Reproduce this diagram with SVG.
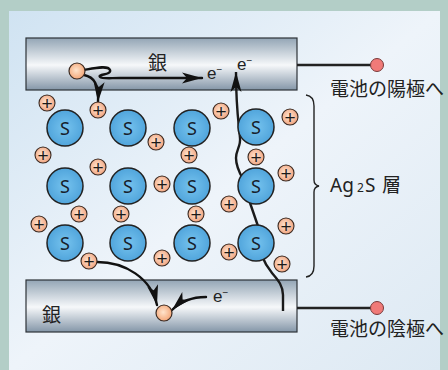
<svg xmlns="http://www.w3.org/2000/svg" width="448" height="370" viewBox="0 0 448 370">
  <defs>
    <linearGradient id="panelGrad" x1="0" y1="0" x2="1" y2="1">
      <stop offset="0" stop-color="#d0e3f2"/>
      <stop offset="0.5" stop-color="#eef4fa"/>
      <stop offset="1" stop-color="#dde9f3"/>
    </linearGradient>
    <linearGradient id="barGrad" x1="0" y1="0" x2="0" y2="1">
      <stop offset="0" stop-color="#93a5b5"/>
      <stop offset="0.52" stop-color="#f6f8fa"/>
      <stop offset="1" stop-color="#8496a8"/>
    </linearGradient>
    <radialGradient id="sGrad" cx="0.5" cy="0.5" r="0.55">
      <stop offset="0" stop-color="#76c3ee"/>
      <stop offset="1" stop-color="#4da2da"/>
    </radialGradient>
    <radialGradient id="ionGrad" cx="0.45" cy="0.45" r="0.6">
      <stop offset="0" stop-color="#ffe6d2"/>
      <stop offset="1" stop-color="#f0a07a"/>
    </radialGradient>
    <radialGradient id="agGrad" cx="0.45" cy="0.45" r="0.6">
      <stop offset="0" stop-color="#ffe4cc"/>
      <stop offset="1" stop-color="#f3a272"/>
    </radialGradient>
    <marker id="arrow" markerUnits="userSpaceOnUse" markerWidth="22" markerHeight="12" refX="20" refY="6" orient="auto">
      <path d="M0,0.5 L20,6 L0,11.5 L5,6 Z" fill="#111"/>
    </marker>
    <style>
      .bar { fill: url(#barGrad); stroke: #2e3338; stroke-width: 1.2; }
      .s { fill: url(#sGrad); stroke: #222; stroke-width: 1.5; }
      .ion { fill: url(#ionGrad); stroke: #3a2a22; stroke-width: 1.1; }
      .ag { fill: url(#agGrad); stroke: #3a2a22; stroke-width: 1.2; }
      .term { fill: #f07a78; stroke: #7a3a3a; stroke-width: 1; }
      .wire { fill: none; stroke: #1a1a1a; stroke-width: 2.4; }
      .flow { fill: none; stroke: #111; stroke-width: 2.4; stroke-linecap: round; }
      .lead { fill: none; stroke: #222; stroke-width: 2.4; }
      .brace { fill: none; stroke: #222; stroke-width: 1.4; }
      .sLabel { font-family: "Noto Sans", "Liberation Sans", sans-serif; font-size: 18px; fill: #17222c; text-anchor: middle; }
      .plus { font-family: "Liberation Sans", "DejaVu Sans", sans-serif; font-size: 19px; fill: #1a1a1a; text-anchor: middle; }
      .jp { font-family: "Noto Sans CJK JP", "Noto Sans", sans-serif; font-size: 19px; fill: #222; }
      .elec { font-family: "Liberation Sans", "Noto Sans", sans-serif; font-size: 17px; fill: #222; }
      .label { font-family: "Noto Sans", "Noto Sans CJK JP", sans-serif; font-size: 19px; fill: #222; }
    </style>
  </defs>

  <!-- background frame and panel -->
  <rect x="0" y="0" width="448" height="370" fill="#b3cec7"/>
  <rect x="9" y="11" width="431" height="359" fill="url(#panelGrad)"/>

  <!-- silver electrodes -->
  <g id="silver-top">
    <rect class="bar" x="26" y="38" width="271" height="52"/>
  </g>
  <g id="silver-bottom">
    <rect class="bar" x="26" y="280" width="271" height="52"/>
  </g>

  <!-- connectors -->
  <g id="connectors">
    <line class="lead" x1="297" y1="65" x2="371" y2="65"/>
    <line class="lead" x1="297" y1="308" x2="371" y2="308"/>
    <!-- electron path from silver atom along the top electrode -->
    <path class="flow" d="M84,70 C95,68 108,65 110,70 C112,75 97,74 100,77 C102,79 110,78 120,78 L202,78" marker-end="url(#arrow)"/>
    <!-- silver ion leaving into the Ag2S layer -->
    <path class="flow" d="M84,75 C94,77 99,84 98,102" marker-end="url(#arrow)"/>
    <!-- electron route through the Ag2S layer -->
    <path class="wire" d="M283,311 L283,295 C283,285 277,279 272,273 C268,268 265,264 262,256"/>
    <path class="wire" d="M259,229 L249,200"/>
    <path class="wire" d="M243,179 C239,172 236,166 236,158 C236,150 241,146 240,138 C239,125 236,110 236,72" marker-end="url(#arrow)"/>
    <!-- deposition at the bottom electrode -->
    <path class="flow" d="M97,262 C125,262 151,278 157,305" marker-end="url(#arrow)"/>
    <path class="flow" d="M206,297 C195,297 182,300 172,310" marker-end="url(#arrow)"/>
  </g>

  <!-- sulfide ions -->
  <g id="sulfur">
    <g id="s-1-1"><circle class="s" cx="65" cy="128" r="18"/><text class="sLabel" x="65" y="134.5">S</text></g>
    <g id="s-1-2"><circle class="s" cx="128" cy="128" r="18"/><text class="sLabel" x="128" y="134.5">S</text></g>
    <g id="s-1-3"><circle class="s" cx="192" cy="128" r="18"/><text class="sLabel" x="192" y="134.5">S</text></g>
    <g id="s-1-4"><circle class="s" cx="256" cy="127" r="18"/><text class="sLabel" x="256" y="133.5">S</text></g>
    <g id="s-2-1"><circle class="s" cx="65" cy="186" r="18"/><text class="sLabel" x="65" y="192.5">S</text></g>
    <g id="s-2-2"><circle class="s" cx="128" cy="186" r="18"/><text class="sLabel" x="128" y="192.5">S</text></g>
    <g id="s-2-3"><circle class="s" cx="192" cy="186" r="18"/><text class="sLabel" x="192" y="192.5">S</text></g>
    <g id="s-2-4"><circle class="s" cx="256" cy="186" r="18"/><text class="sLabel" x="256" y="192.5">S</text></g>
    <g id="s-3-1"><circle class="s" cx="65" cy="243" r="18"/><text class="sLabel" x="65" y="249.5">S</text></g>
    <g id="s-3-2"><circle class="s" cx="128" cy="243" r="18"/><text class="sLabel" x="128" y="249.5">S</text></g>
    <g id="s-3-3"><circle class="s" cx="192" cy="243" r="18"/><text class="sLabel" x="192" y="249.5">S</text></g>
    <g id="s-3-4"><circle class="s" cx="256" cy="243" r="18"/><text class="sLabel" x="256" y="249.5">S</text></g>
  </g>

  <!-- silver ions -->
  <g id="ions">
    <g id="ion-1"><circle class="ion" cx="47" cy="103" r="8"/><text class="plus" x="47" y="109.6">+</text></g>
    <g id="ion-2"><circle class="ion" cx="98" cy="110" r="8"/><text class="plus" x="98" y="116.6">+</text></g>
    <g id="ion-3"><circle class="ion" cx="221" cy="111" r="8"/><text class="plus" x="221" y="117.6">+</text></g>
    <g id="ion-4"><circle class="ion" cx="290" cy="117" r="8"/><text class="plus" x="290" y="123.6">+</text></g>
    <g id="ion-5"><circle class="ion" cx="156" cy="142" r="8"/><text class="plus" x="156" y="148.6">+</text></g>
    <g id="ion-6"><circle class="ion" cx="43" cy="155" r="8"/><text class="plus" x="43" y="161.6">+</text></g>
    <g id="ion-7"><circle class="ion" cx="189" cy="155" r="8"/><text class="plus" x="189" y="161.6">+</text></g>
    <g id="ion-8"><circle class="ion" cx="256" cy="157" r="8"/><text class="plus" x="256" y="163.6">+</text></g>
    <g id="ion-9"><circle class="ion" cx="98" cy="167" r="8"/><text class="plus" x="98" y="173.6">+</text></g>
    <g id="ion-10"><circle class="ion" cx="286" cy="173" r="8"/><text class="plus" x="286" y="179.6">+</text></g>
    <g id="ion-11"><circle class="ion" cx="162" cy="184" r="8"/><text class="plus" x="162" y="190.6">+</text></g>
    <g id="ion-12"><circle class="ion" cx="229" cy="204" r="8"/><text class="plus" x="229" y="210.6">+</text></g>
    <g id="ion-13"><circle class="ion" cx="79" cy="214" r="8"/><text class="plus" x="79" y="220.6">+</text></g>
    <g id="ion-14"><circle class="ion" cx="121" cy="214" r="8"/><text class="plus" x="121" y="220.6">+</text></g>
    <g id="ion-15"><circle class="ion" cx="196" cy="214" r="8"/><text class="plus" x="196" y="220.6">+</text></g>
    <g id="ion-16"><circle class="ion" cx="39" cy="224" r="8"/><text class="plus" x="39" y="230.6">+</text></g>
    <g id="ion-17"><circle class="ion" cx="286" cy="226" r="8"/><text class="plus" x="286" y="232.6">+</text></g>
    <g id="ion-18"><circle class="ion" cx="229" cy="252" r="8"/><text class="plus" x="229" y="258.6">+</text></g>
    <g id="ion-19"><circle class="ion" cx="162" cy="258" r="8"/><text class="plus" x="162" y="264.6">+</text></g>
    <g id="ion-20"><circle class="ion" cx="89" cy="261" r="8"/><text class="plus" x="89" y="267.6">+</text></g>
    <g id="ion-21"><circle class="ion" cx="282" cy="264" r="8"/><text class="plus" x="282" y="270.6">+</text></g>
  </g>

  <!-- silver atoms -->
  <g id="ag-top"><circle class="ag" cx="77" cy="71" r="8"/></g>
  <g id="ag-bottom"><circle class="ag" cx="164" cy="313" r="8"/></g>

  <!-- battery terminals -->
  <g id="anode-terminal">
    <circle class="term" cx="377" cy="65" r="6.5"/>
    <text class="jp" x="330" y="96">電池の陽極へ</text>
  </g>
  <g id="cathode-terminal">
    <circle class="term" cx="377" cy="308" r="6.5"/>
    <text class="jp" x="330" y="336">電池の陰極へ</text>
  </g>

  <!-- electrode labels -->
  <text class="jp" x="148" y="70">銀</text>
  <text class="jp" x="42" y="322">銀</text>

  <!-- electron labels -->
  <text class="elec" x="207" y="79">e<tspan font-size="10" dy="-6">−</tspan></text>
  <text class="elec" x="237" y="70">e<tspan font-size="10" dy="-6">−</tspan></text>
  <text class="elec" x="213" y="302">e<tspan font-size="10" dy="-6">−</tspan></text>

  <!-- Ag2S layer bracket -->
  <g id="layer-brace">
    <path class="brace" d="M306,95 Q314,96 314,106 L314,180 Q314,185 319,186 Q314,187 314,192 L314,266 Q314,276 306,277"/>
    <text class="label" x="330" y="192">Ag<tspan x="357" font-size="12">2</tspan><tspan x="365">S</tspan><tspan x="382" font-family="Noto Sans CJK JP, sans-serif">層</tspan></text>
  </g>
</svg>
